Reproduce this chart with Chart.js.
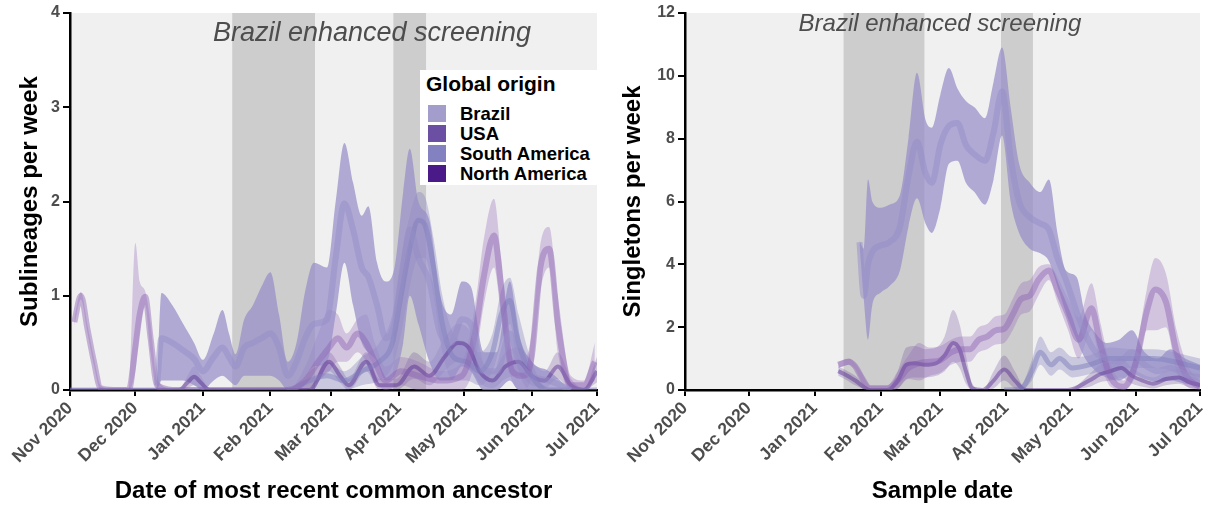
<!DOCTYPE html>
<html>
<head>
<meta charset="utf-8">
<script src="https://cdn.jsdelivr.net/npm/chart.js@4.4.1/dist/chart.umd.min.js"></script>
<style>
  html, body { margin: 0; padding: 0; background: #fff; overflow: hidden; }
  #wrap { position: relative; width: 1210px; height: 507px; font-family: "Liberation Sans", Arial, sans-serif; }
  canvas { position: absolute; top: 0; }
  #mrca { left: 0; }
  #singletons { left: 605px; }
  .legend { position: absolute; left: 420px; top: 70px; width: 177px; height: 115px; background: #fff; }
  .legend .title { position: absolute; left: 6px; top: 2px; font-size: 21px; font-weight: bold; color: #000; }
  .legend .item { position: absolute; left: 8px; height: 17px; }
  .legend .sw { position: absolute; left: 0; top: 0; width: 18px; height: 17px; }
  .legend .lab { position: absolute; left: 32px; top: -2px; font-size: 18.5px; font-weight: bold; color: #000; white-space: nowrap; }
</style>
</head>
<body>
<div id="wrap">
  <canvas id="mrca" width="605" height="507"></canvas>
  <canvas id="singletons" width="605" height="507"></canvas>
  <div class="legend" id="legend"><div class="title">Global origin</div></div>
</div>
<script>
(function () {
  "use strict";

  // x axis: days since 1 Nov 2020
  var MONTH_DAYS = [0, 30, 61, 92, 120, 151, 181, 212, 242];
  var MONTH_LABELS = ["Nov 2020", "Dec 2020", "Jan 2021", "Feb 2021", "Mar 2021",
    "Apr 2021", "May 2021", "Jun 2021", "Jul 2021"];
  var SCREEN_START = [74.5, 148.5];
  var SCREEN_END = [112.5, 163.5];
  var ORIGINS = ["Brazil", "USA", "South America", "North America"];

  // ---- left panel: sublineages per week (by MRCA date) ----
  var subBrazilDays = [40, 42, 47, 52, 57, 61, 66, 70, 73, 76, 80, 84, 88, 92, 96, 100, 104, 108, 112, 118,
    122, 126, 130, 134, 137, 141, 145, 149, 153, 156, 160, 165, 170, 175, 180, 184, 190, 196, 202, 206, 212, 220, 230];
  var subBrazilHi = [0.1, 1.03, 0.9, 0.7, 0.5, 0.32, 0.6, 0.85, 0.6, 0.38, 0.75, 0.9, 1.1, 1.25, 0.8, 0.3, 0.5, 1.05, 1.35, 1.3,
    2.0, 2.62, 2.2, 1.85, 1.95, 1.35, 1.15, 1.3, 2.1, 2.56, 2.0, 1.8, 1.0, 0.8, 1.15, 1.1, 0.4, 0.4, 1.15, 0.6, 0.3, 0.2, 0];
  var subBrazilMid = [0.05, 0.55, 0.5, 0.42, 0.33, 0.2, 0.35, 0.45, 0.35, 0.25, 0.45, 0.5, 0.55, 0.6, 0.45, 0.15, 0.3, 0.55, 0.7, 0.75,
    1.4, 1.98, 1.7, 1.3, 1.2, 0.9, 0.55, 0.7, 1.3, 1.7, 1.4, 1.15, 0.6, 0.5, 0.75, 0.7, 0.2, 0.2, 0.6, 0.3, 0.15, 0.1, 0];
  var subBrazilLo = [0, 0.1, 0.1, 0.1, 0.05, 0, 0.1, 0.15, 0.1, 0.05, 0.15, 0.15, 0.15, 0.15, 0.1, 0, 0.05, 0.15, 0.25, 0.3,
    0.8, 1.35, 0.9, 0.5, 0.4, 0.3, 0.1, 0.15, 0.5, 1.0, 0.7, 0.3, 0.1, 0.1, 0.25, 0.2, 0, 0, 0.1, 0, 0, 0, 0];

  var subUsaDays = [2, 5, 8, 11, 14, 20, 27, 30, 32, 34.5, 37, 40, 50, 100, 108, 114, 119, 123, 127, 132,
    136, 140, 145, 152, 160, 170, 180, 186, 190, 194.7, 198, 203, 208, 212, 216, 220, 224, 230, 236, 241];
  var subUsaMid = [0.72, 1.0, 0.65, 0.3, 0.02, 0, 0, 0.45, 0.8, 0.99, 0.55, 0.05, 0, 0, 0.1, 0.3, 0.45, 0.55, 0.45, 0.6,
    0.5, 0.3, 0.1, 0.2, 0.15, 0.1, 0.15, 0.6, 1.2, 1.64, 1.1, 0.2, 0.15, 0.35, 1.3, 1.5, 0.7, 0.05, 0.05, 0.3];
  var subUsaHi = [0.76, 1.04, 0.69, 0.34, 0.05, 0, 0, 1.56, 1.15, 1.05, 0.7, 0.1, 0, 0, 0.25, 0.6, 0.85, 0.8, 0.6, 0.75,
    0.8, 0.5, 0.25, 0.35, 0.3, 0.2, 0.3, 0.9, 1.6, 2.03, 1.4, 0.35, 0.3, 0.6, 1.55, 1.73, 1.0, 0.15, 0.1, 0.5];
  var subUsaLo = [0.68, 0.96, 0.61, 0.26, 0, 0, 0, 0.2, 0.6, 0.9, 0.4, 0, 0, 0, 0, 0.1, 0.2, 0.3, 0.3, 0.4,
    0.3, 0.1, 0, 0.05, 0, 0, 0, 0.3, 0.9, 1.3, 0.8, 0.1, 0, 0.15, 1.05, 1.3, 0.4, 0, 0, 0.1];

  var subSamDays = [0, 100, 110, 118, 126, 134, 142, 148, 152, 156, 160, 163, 167, 171, 176, 182, 188, 194, 198, 202,
    206, 212, 220, 242];
  var subSamMid = [0, 0, 0.1, 0.15, 0.1, 0.2, 0.3, 0.5, 1.0, 1.5, 1.8, 1.75, 1.3, 0.7, 0.35, 0.3, 0.2, 0.4, 0.8, 0.95,
    0.5, 0.15, 0, 0];
  var subSamHi = [0, 0, 0.2, 0.3, 0.2, 0.35, 0.5, 0.8, 1.4, 1.85, 2.1, 2.05, 1.6, 1.0, 0.6, 0.5, 0.4, 0.6, 1.05, 1.19,
    0.8, 0.3, 0, 0];
  var subSamLo = [0, 0, 0, 0, 0, 0.05, 0.1, 0.25, 0.6, 1.1, 1.4, 1.4, 1.0, 0.4, 0.1, 0.1, 0.05, 0.2, 0.5, 0.7,
    0.2, 0, 0, 0];

  var subNamDays = [0, 50, 54, 57, 60, 64, 110, 119, 124, 128, 136, 142, 150, 158, 165, 172, 178, 183, 188, 194,
    200, 206, 212, 218, 224, 230, 236, 242];
  var subNamMid = [0, 0, 0.08, 0.14, 0.08, 0, 0, 0.3, 0.15, 0.05, 0.3, 0.05, 0.05, 0.25, 0.15, 0.35, 0.5, 0.45, 0.2, 0.1,
    0.25, 0.3, 0.15, 0.1, 0.25, 0.05, 0, 0.2];
  var subNamHi = [0, 0, 0.15, 0.25, 0.15, 0.02, 0, 0.4, 0.25, 0.12, 0.4, 0.12, 0.12, 0.4, 0.3, 0.55, 0.7, 0.65, 0.35, 0.2,
    0.4, 0.45, 0.3, 0.2, 0.4, 0.12, 0.02, 0.35];
  var subNamLo = [0, 0, 0.02, 0.05, 0.02, 0, 0, 0.2, 0.08, 0, 0.2, 0, 0, 0.12, 0.05, 0.2, 0.3, 0.25, 0.08, 0.02,
    0.12, 0.15, 0.05, 0.02, 0.12, 0, 0, 0.08];

  // ---- right panel: singletons per week (by sample date) ----
  var sglBrazilDays = [82, 84, 86, 88, 92, 96, 101, 105, 109, 113, 116, 120, 124, 128, 132, 136, 141, 145, 149, 153,
    157, 162, 167, 171, 175, 179, 184, 188, 193, 198, 204, 210, 216, 222, 228, 235, 242];
  var sglBrazilHi = [4.75, 4.5, 6.7, 6.0, 5.8, 5.9, 6.2, 8.0, 10.1, 8.6, 8.35, 9.4, 10.25, 9.6, 9.2, 9.0, 8.65, 9.8, 10.9, 9.0,
    7.2, 6.6, 6.3, 6.7, 5.0, 3.8, 3.6, 2.4, 1.8, 1.5, 1.6, 1.9, 1.2, 1.0, 1.3, 1.0, 0.8];
  var sglBrazilMid = [4.7, 3.0, 4.0, 4.4, 4.6, 4.7, 5.2, 6.8, 7.9, 6.9, 6.6, 7.8, 8.4, 8.5, 7.8, 7.5, 7.3, 8.2, 9.5, 7.4,
    6.0, 5.5, 5.3, 5.1, 4.2, 3.5, 2.5, 1.8, 1.2, 1.0, 0.9, 1.2, 0.8, 0.6, 0.7, 0.5, 0.4];
  var sglBrazilLo = [4.65, 2.9, 1.6, 2.7, 3.1, 3.3, 3.8, 5.2, 6.1, 5.3, 5.0, 5.8, 7.2, 7.3, 6.6, 6.3, 5.9, 6.7, 8.1, 6.0,
    5.0, 4.5, 4.35, 4.1, 3.3, 2.45, 1.6, 1.0, 0.6, 0.4, 0.3, 0.5, 0.35, 0.25, 0.3, 0.2, 0.1];

  var sglUsaDays = [72, 74, 77, 80, 83, 87, 95, 100, 105, 110, 115, 120, 125, 130, 134, 138, 142, 146, 150, 154,
    158, 162, 166, 171, 175, 180, 185, 191, 195, 200, 206, 212, 217, 221, 226, 231, 236, 242];
  var sglUsaMid = [0.8, 0.85, 0.9, 0.75, 0.4, 0.05, 0.05, 0.3, 0.7, 0.85, 0.9, 0.95, 1.2, 1.3, 1.3, 1.6, 1.7, 1.9, 1.95, 2.4,
    2.9, 3.0, 3.5, 3.8, 3.2, 2.4, 1.6, 2.6, 1.5, 0.4, 0.1, 0.9, 2.5, 3.2, 2.8, 1.2, 0.4, 0.1];
  var sglUsaHi = [0.9, 0.95, 1.0, 0.85, 0.55, 0.15, 0.15, 0.6, 1.1, 1.5, 1.35, 1.4, 1.6, 1.7, 1.7, 2.0, 2.1, 2.35, 2.4, 2.9,
    3.4, 3.5, 3.9, 4.0, 3.6, 2.9, 2.3, 3.4, 2.2, 0.8, 0.3, 1.3, 3.2, 4.2, 3.7, 1.9, 0.8, 0.3];
  var sglUsaLo = [0.7, 0.75, 0.8, 0.65, 0.25, 0, 0, 0.05, 0.35, 0.3, 0.45, 0.55, 0.8, 0.9, 0.9, 1.2, 1.3, 1.45, 1.5, 1.9,
    2.4, 2.5, 3.0, 3.5, 2.8, 1.9, 1.0, 1.9, 0.9, 0.1, 0, 0.5, 1.9, 1.9, 2.0, 0.6, 0.1, 0];

  var sglSamDays = [150, 158, 163, 167, 172, 176, 182, 190, 200, 210, 220, 230, 236, 242];
  var sglSamMid = [0, 0.05, 0.6, 1.2, 0.8, 1.0, 0.7, 0.8, 1.0, 1.0, 1.0, 0.9, 0.8, 0.7];
  var sglSamHi = [0, 0.15, 0.95, 1.7, 1.2, 1.35, 1.05, 1.1, 1.35, 1.3, 1.3, 1.2, 1.1, 1.0];
  var sglSamLo = [0, 0, 0.3, 0.8, 0.45, 0.65, 0.4, 0.5, 0.65, 0.7, 0.7, 0.6, 0.5, 0.4];

  var sglNamDays = [72, 75, 80, 87, 95, 100, 104, 108, 113, 118, 122, 126, 129, 132, 135, 140, 145, 150, 155, 160,
    180, 190, 195, 200, 205, 210, 215, 220, 226, 232, 237, 242];
  var sglNamMid = [0.6, 0.5, 0.3, 0, 0, 0.3, 0.8, 0.85, 0.8, 0.85, 1.1, 1.5, 1.3, 0.6, 0.05, 0, 0.3, 0.65, 0.3, 0,
    0, 0.3, 0.5, 0.6, 0.7, 0.45, 0.3, 0.2, 0.35, 0.4, 0.25, 0.15];
  var sglNamHi = [0.75, 0.65, 0.45, 0.05, 0, 0.6, 1.35, 1.4, 1.3, 1.35, 1.7, 2.55, 2.1, 1.1, 0.2, 0, 0.6, 1.1, 0.6, 0.05,
    0, 0.5, 0.8, 0.9, 1.0, 0.7, 0.5, 0.4, 0.6, 0.65, 0.45, 0.3];
  var sglNamLo = [0.45, 0.35, 0.15, 0, 0, 0.05, 0.35, 0.4, 0.4, 0.45, 0.6, 0.9, 0.7, 0.2, 0, 0, 0.05, 0.3, 0.05, 0,
    0, 0.1, 0.25, 0.3, 0.4, 0.2, 0.1, 0.05, 0.15, 0.2, 0.08, 0.02];

  var STYLE = {
    "Brazil": { key: "#a39dcc", band: "rgba(150,142,200,0.72)", line: "rgba(150,142,200,0.5)", width: 6 },
    "USA": { key: "#6b4fa3", band: "rgba(150,105,185,0.33)", line: "rgba(140,100,180,0.45)", width: 6 },
    "South America": { key: "#8481c0", band: "rgba(128,125,190,0.35)", line: "rgba(128,125,190,0.5)", width: 5 },
    "North America": { key: "#4b1a89", band: "rgba(84,39,143,0.22)", line: "rgba(84,39,143,0.45)", width: 4 },
  };

  function pts(days, vals) {
    return days.map(function (d, i) { return { x: d, y: vals[i] }; });
  }

  function ribbon(origin, days, lo, mid, hi) {
    var s = STYLE[origin];
    return [
      { data: pts(days, hi), borderWidth: 0, fill: false, order: 2 },
      { data: pts(days, lo), borderWidth: 0, fill: "-1", backgroundColor: s.band, order: 2 },
      { data: pts(days, mid), borderWidth: s.width, borderColor: s.line, fill: false, order: 1 },
    ];
  }

  var shadePlugin = {
    id: "shade",
    beforeDraw: function (chart) {
      var a = chart.chartArea, x = chart.scales.x, ctx = chart.ctx;
      var o = chart.options.plugins.shade;
      ctx.save();
      ctx.fillStyle = "#f0f0f0";
      ctx.fillRect(a.left, a.top, a.right - a.left, a.bottom - a.top);
      ctx.fillStyle = "#cdcdcd";
      SCREEN_START.forEach(function (s, i) {
        var x0 = x.getPixelForValue(s), x1 = x.getPixelForValue(SCREEN_END[i]);
        ctx.fillRect(x0, a.top, x1 - x0, a.bottom - a.top);
      });
      ctx.fillStyle = "#4d4d4d";
      ctx.font = "italic " + o.size + "px 'Liberation Sans', Arial, sans-serif";
      ctx.textAlign = "center";
      ctx.textBaseline = "middle";
      ctx.fillText("Brazil enhanced screening", o.x, o.y);
      ctx.restore();
    },
  };

  var FAMILY = "'Liberation Sans', Arial, sans-serif";
  var xTickFont = { family: FAMILY, size: 17.5, weight: "bold" };
  var yTickFont = { family: FAMILY, size: 16, weight: "bold" };
  var titleFont = { family: FAMILY, size: 24, weight: "bold" };

  function makeChart(id, datasets, cfg) {
    return new Chart(document.getElementById(id), {
      type: "line",
      data: { datasets: datasets },
      options: {
        responsive: false,
        animation: false,
        layout: { padding: { left: 0, right: cfg.padRight, top: 13, bottom: 0 } },
        plugins: { legend: { display: false }, tooltip: { enabled: false }, shade: cfg.note },
        elements: { point: { radius: 0 }, line: { cubicInterpolationMode: "monotone" } },
        scales: {
          x: {
            type: "linear", min: 0, max: 242,
            afterBuildTicks: function (s) { s.ticks = MONTH_DAYS.map(function (v) { return { value: v }; }); },
            afterFit: function (s) { s.height = 117; s.paddingLeft = 0; s.paddingRight = 0; },
            ticks: {
              autoSkip: false, maxRotation: 45, minRotation: 45, color: "#4d4d4d", font: xTickFont, padding: 2,
              callback: function (v) { return MONTH_LABELS[MONTH_DAYS.indexOf(v)]; },
            },
            grid: { drawOnChartArea: false, drawTicks: true, tickLength: 6, color: "#000", lineWidth: 2 },
            border: { display: true, color: "#000", width: 2.5 },
            title: { display: true, text: cfg.xTitle, color: "#000", font: titleFont, padding: { top: 0, bottom: 1 } },
          },
          y: {
            min: 0, max: cfg.yMax,
            afterFit: function (s) { s.width = cfg.yWidth; },
            ticks: { stepSize: cfg.yStep, color: "#4d4d4d", font: yTickFont, padding: 3 },
            grid: { drawOnChartArea: false, drawTicks: true, tickLength: 7, color: "#000", lineWidth: 2 },
            border: { display: true, color: "#000", width: 2.5 },
            title: { display: true, text: cfg.yTitle, color: "#000", font: titleFont, padding: { top: cfg.yTitlePad, bottom: 0 } },
          },
        },
      },
      plugins: [shadePlugin],
    });
  }

  var left = []
    .concat(ribbon("Brazil", subBrazilDays, subBrazilLo, subBrazilMid, subBrazilHi))
    .concat(ribbon("USA", subUsaDays, subUsaLo, subUsaMid, subUsaHi))
    .concat(ribbon("South America", subSamDays, subSamLo, subSamMid, subSamHi))
    .concat(ribbon("North America", subNamDays, subNamLo, subNamMid, subNamHi));

  var right = []
    .concat(ribbon("Brazil", sglBrazilDays, sglBrazilLo, sglBrazilMid, sglBrazilHi))
    .concat(ribbon("USA", sglUsaDays, sglUsaLo, sglUsaMid, sglUsaHi))
    .concat(ribbon("South America", sglSamDays, sglSamLo, sglSamMid, sglSamHi))
    .concat(ribbon("North America", sglNamDays, sglNamLo, sglNamMid, sglNamHi));

  makeChart("mrca", left, {
    padRight: 8, yWidth: 70, yMax: 4, yStep: 1, yTitlePad: 15.5,
    xTitle: "Date of most recent common ancestor", yTitle: "Sublineages per week",
    note: { x: 372, y: 33, size: 27 },
  });
  makeChart("singletons", right, {
    padRight: 10, yWidth: 80, yMax: 12, yStep: 2, yTitlePad: 14,
    xTitle: "Sample date", yTitle: "Singletons per week",
    note: { x: 335, y: 24, size: 24 },
  });

  var legend = document.getElementById("legend");
  ORIGINS.forEach(function (name, i) {
    var item = document.createElement("div");
    item.className = "item";
    item.style.top = (35 + i * 20) + "px";
    item.innerHTML = '<div class="sw" style="background:' + STYLE[name].key + '"></div><div class="lab">' + name + "</div>";
    legend.appendChild(item);
  });
})();
</script>
</body>
</html>
